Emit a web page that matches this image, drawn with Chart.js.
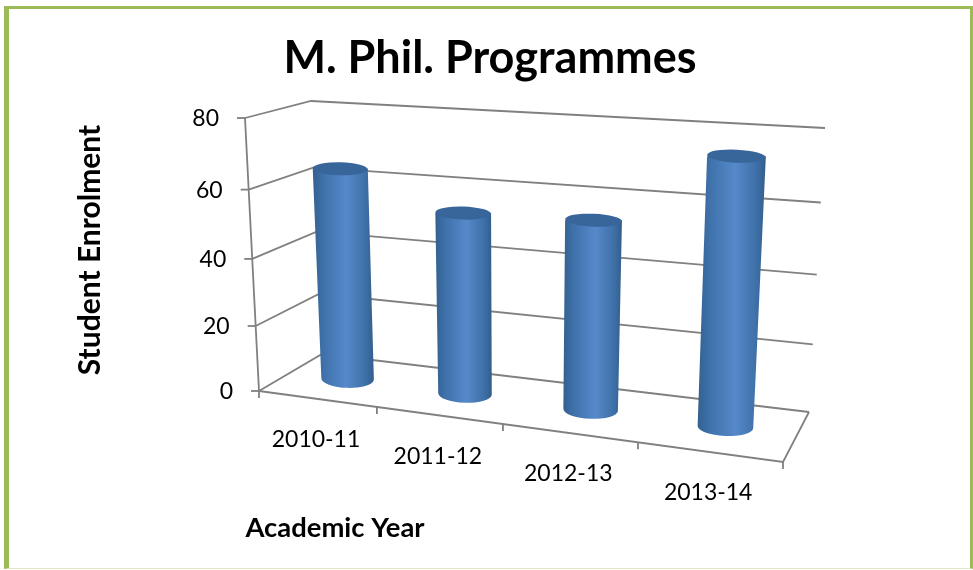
<!DOCTYPE html>
<html>
<head>
<meta charset="utf-8">
<title>M. Phil. Programmes</title>
<script src="https://cdn.jsdelivr.net/npm/chart.js@4"></script>
<style>
  html, body { margin: 0; padding: 0; background: #fff; overflow: hidden; }
  #frame {
    position: absolute; left: 4px; top: 6px; width: 961px; height: 559px;
    border: solid #9bbb59; border-width: 3px 3px 1px 5px;
    border-bottom-color: #dfe8c8;
  }
  #myChart { position: absolute; left: 0; top: 0; }
</style>
</head>
<body>
<div id="frame"></div>
<canvas id="myChart" width="973" height="570"></canvas>
<script>
var categories = ["2010-11", "2011-12", "2012-13", "2013-14"];
var enrolment = [64, 54, 55, 75];
var chartTitle = "M. Phil. Programmes";
var xTitle = "Academic Year";
var yTitle = "Student Enrolment";

var FONT = "Lato, Carlito, sans-serif";
var GRID = "#808080";

// corners of the 3d box on screen: front/back, bottom/top, left/right
var box = {
  fbl: [259, 391], ftl: [245, 118], fbr: [783, 462], ftr: [798.6, 156],
  bbl: [322, 354], btl: [311, 101], bbr: [809, 412], btr: [825, 128],
};
var BAR_DEPTH = 0.52;

function persp(a, k) {
  return a / (a + k * (1 - a));
}
function mix(a, b, f) {
  return [a[0] + (b[0] - a[0]) * f, a[1] + (b[1] - a[1]) * f];
}
// u = along the categories, t = up the value axis, d = into the chart, all 0..1
function project(u, t, d) {
  var uu = persp(u, 1.148);
  var tt = persp(t, 1.067);
  var front = mix(mix(box.fbl, box.ftl, tt), mix(box.fbr, box.ftr, tt), uu);
  var back = mix(mix(box.bbl, box.btl, tt), mix(box.bbr, box.btr, tt), uu);
  return mix(front, back, d);
}
function line(ctx, pts) {
  ctx.beginPath();
  pts.forEach(function (p, i) {
    if (i === 0) ctx.moveTo(p[0], p[1]);
    else ctx.lineTo(p[0], p[1]);
  });
  ctx.stroke();
}

function drawCylinder(ctx, chart, el) {
  var area = chart.chartArea;
  var u = (el.x - area.left) / area.width;
  var t = (el.base - el.y) / (el.base - area.top);
  var span = (el.width / area.width) * 520 * (1 + 0.08 * u);
  var bottom = project(u, 0, BAR_DEPTH);
  var top = project(u, t, BAR_DEPTH);
  var rb = span / 2;
  var rt = (span * (1 + 0.06 * t)) / 2;
  var tilt = 0.02 + 0.03 * u;

  var grad = ctx.createLinearGradient(
    Math.min(top[0] - rt, bottom[0] - rb), 0,
    Math.max(top[0] + rt, bottom[0] + rb), 0
  );
  grad.addColorStop(0, "#33618f");
  grad.addColorStop(0.18, "#3f72ab");
  grad.addColorStop(0.55, "#5589c9");
  grad.addColorStop(0.85, "#3f71a9");
  grad.addColorStop(1, "#325e8c");

  ctx.fillStyle = grad;
  ctx.beginPath();
  ctx.moveTo(top[0] - rt, top[1]);
  ctx.lineTo(bottom[0] - rb, bottom[1]);
  ctx.ellipse(bottom[0], bottom[1], rb, 9, tilt, Math.PI, 0, true);
  ctx.lineTo(top[0] + rt, top[1]);
  ctx.closePath();
  ctx.fill();

  ctx.fillStyle = "#38659a";
  ctx.beginPath();
  ctx.ellipse(top[0], top[1], rt, 6.5, tilt, 0, Math.PI * 2);
  ctx.fill();
}

var box3d = {
  id: "box3d",
  beforeDatasetsDraw: function (chart) {
    var ctx = chart.ctx;
    var yScale = chart.scales.y;
    ctx.save();
    ctx.strokeStyle = GRID;
    ctx.lineWidth = 1.8;
    yScale.ticks.forEach(function (tick) {
      var t = tick.value / yScale.max;
      line(ctx, [project(0, t, 0), project(0, t, 1), project(1, t, 1)]);
      var p = project(0, t, 0);
      line(ctx, [p, [p[0] - 8, p[1]]]);
    });
    line(ctx, [project(0, 0, 0), project(0, 1, 0)]);
    line(ctx, [project(0, 0, 0), project(1, 0, 0), project(1, 0, 1)]);
    categories.forEach(function (c, i) {
      var p = project(i / categories.length, 0, 0);
      line(ctx, [p, [p[0], p[1] + 7]]);
    });
    var end = project(1, 0, 0);
    line(ctx, [end, [end[0], end[1] + 7]]);
    ctx.restore();
  },
  afterDatasetsDraw: function (chart) {
    var ctx = chart.ctx;
    ctx.save();
    chart.getDatasetMeta(0).data.forEach(function (el) {
      drawCylinder(ctx, chart, el);
    });
    ctx.restore();
  },
  afterDraw: function (chart) {
    var ctx = chart.ctx;
    var yScale = chart.scales.y;
    var xScale = chart.scales.x;
    ctx.save();
    ctx.fillStyle = "#000";
    ctx.font = "23px " + FONT;
    ctx.textBaseline = "middle";
    ctx.textAlign = "right";
    yScale.ticks.forEach(function (tick) {
      var p = project(0, tick.value / yScale.max, 0);
      ctx.fillText(tick.label, p[0] - 26, p[1] + 1);
    });
    ctx.textAlign = "center";
    xScale.ticks.forEach(function (tick, i) {
      var p = project((i + 0.5) / categories.length, 0, 0);
      ctx.fillText(xScale.getLabelForValue(tick.value), p[0] - 1, p[1] + 41);
    });
    ctx.font = "bold 27.4px " + FONT;
    ctx.fillText(xTitle, 335, 528);
    ctx.font = "bold 30px " + FONT;
    ctx.translate(90, 250);
    ctx.rotate(-Math.PI / 2);
    ctx.fillText(yTitle, 0, 0);
    ctx.restore();
  },
};

var ctx = document.getElementById("myChart").getContext("2d");
var myChart = new Chart(ctx, {
  type: "bar",
  data: {
    labels: categories,
    datasets: [
      {
        label: "Student Enrolment",
        data: enrolment,
        backgroundColor: "rgba(0, 0, 0, 0)",
        barPercentage: 0.4,
        categoryPercentage: 1,
      },
    ],
  },
  options: {
    responsive: false,
    animation: false,
    layout: { padding: { left: 7, top: 31 } },
    plugins: {
      legend: { display: false },
      tooltip: { enabled: false },
      title: {
        display: true,
        text: chartTitle,
        color: "#000",
        font: { family: FONT, size: 45, weight: "bold" },
        padding: { top: 0, bottom: 10 },
      },
    },
    scales: {
      x: { display: false },
      y: { display: false, min: 0, max: 80, ticks: { stepSize: 20 } },
    },
  },
  plugins: [box3d],
});
</script>
</body>
</html>
